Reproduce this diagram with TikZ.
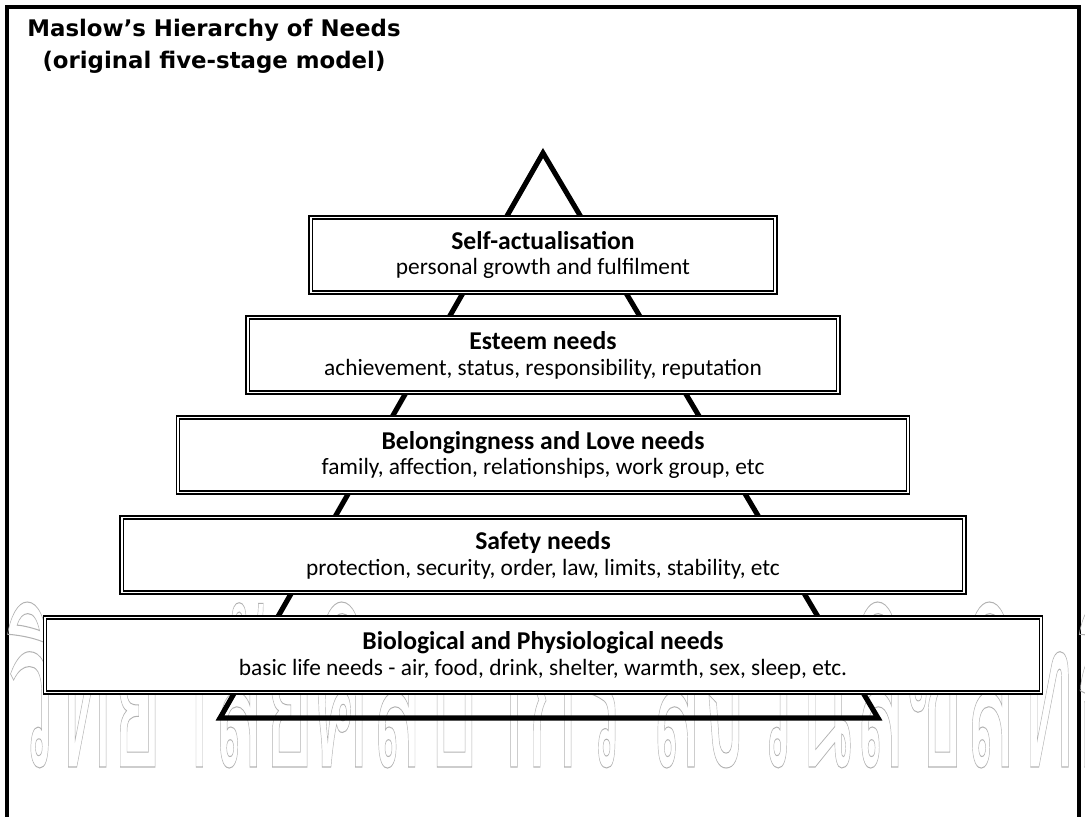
\documentclass[tikz,border=0pt]{standalone}
\usepackage{fontspec}
\setmainfont{Carlito}
\newfontfamily\titlefont{DejaVu Sans}
\newfontfamily\thaifont[Script=Thai]{Loma}
\newcommand\headfont{\bfseries\fontsize{14.6}{14.7}\selectfont}

\tikzstyle{needbox} = [rectangle, minimum height=1.5cm, text centered, align=center, draw=black, fill=white, line width=0.7pt, double, double distance=1.1pt, inner sep=0pt, font=\fontsize{13.3}{14.7}\selectfont]
\tikzstyle{pyramid} = [line width=2.9pt, line join=miter]

\begin{document}
\begin{tikzpicture}[x=0.02cm, y=-0.02cm]
\useasboundingbox (0,0) rectangle (1085,817);
%Frame
\draw [line width=2.2pt] (7,840) -- (7,7) -- (1079,7) -- (1079,840);

%Title
\node (title) [align=center, font=\titlefont\bfseries\fontsize{13}{18}\selectfont] at (214,46) {Maslow’s Hierarchy of Needs\\(original five-stage model)};

%Watermark
\node (wmark) [anchor=base west, xscale=0.42, transform shape, text=black!30, inner sep=0pt, font=\thaifont\fontsize{117}{117}\selectfont] at (-156,767) {\special{pdf:code q 1 Tr 0.6 w}มหาวิทยาลัยศิลปากร\hspace{0.3em}สงวนลิขสิทธิ์\special{pdf:code Q}};

%Pyramid
\coordinate (apex) at (543,153);
\coordinate (baseleft) at (220,718);
\coordinate (baseright) at (878,718);
\draw [pyramid] (apex) -- (baseright) -- (baseleft) -- cycle;

%Levels
\node (selfact) [needbox, minimum width=9.3cm] at (543,255) {{\headfont Self-actualisation}\\personal growth and fulfilment};
\node (esteem) [needbox, minimum width=11.82cm] at (543,355) {{\headfont Esteem needs}\\achievement, status, responsibility, reputation};
\node (belong) [needbox, minimum width=14.6cm] at (543,455) {{\headfont Belongingness and Love needs}\\family, affection, relationships, work group, etc};
\node (safety) [needbox, minimum width=16.86cm] at (543,555) {{\headfont Safety needs}\\protection, security, order, law, limits, stability, etc};
\node (biolog) [needbox, minimum width=19.92cm] at (543,655) {{\headfont Biological and Physiological needs}\\basic life needs - air, food, drink, shelter, warmth, sex, sleep, etc.};
\end{tikzpicture}
\end{document}
